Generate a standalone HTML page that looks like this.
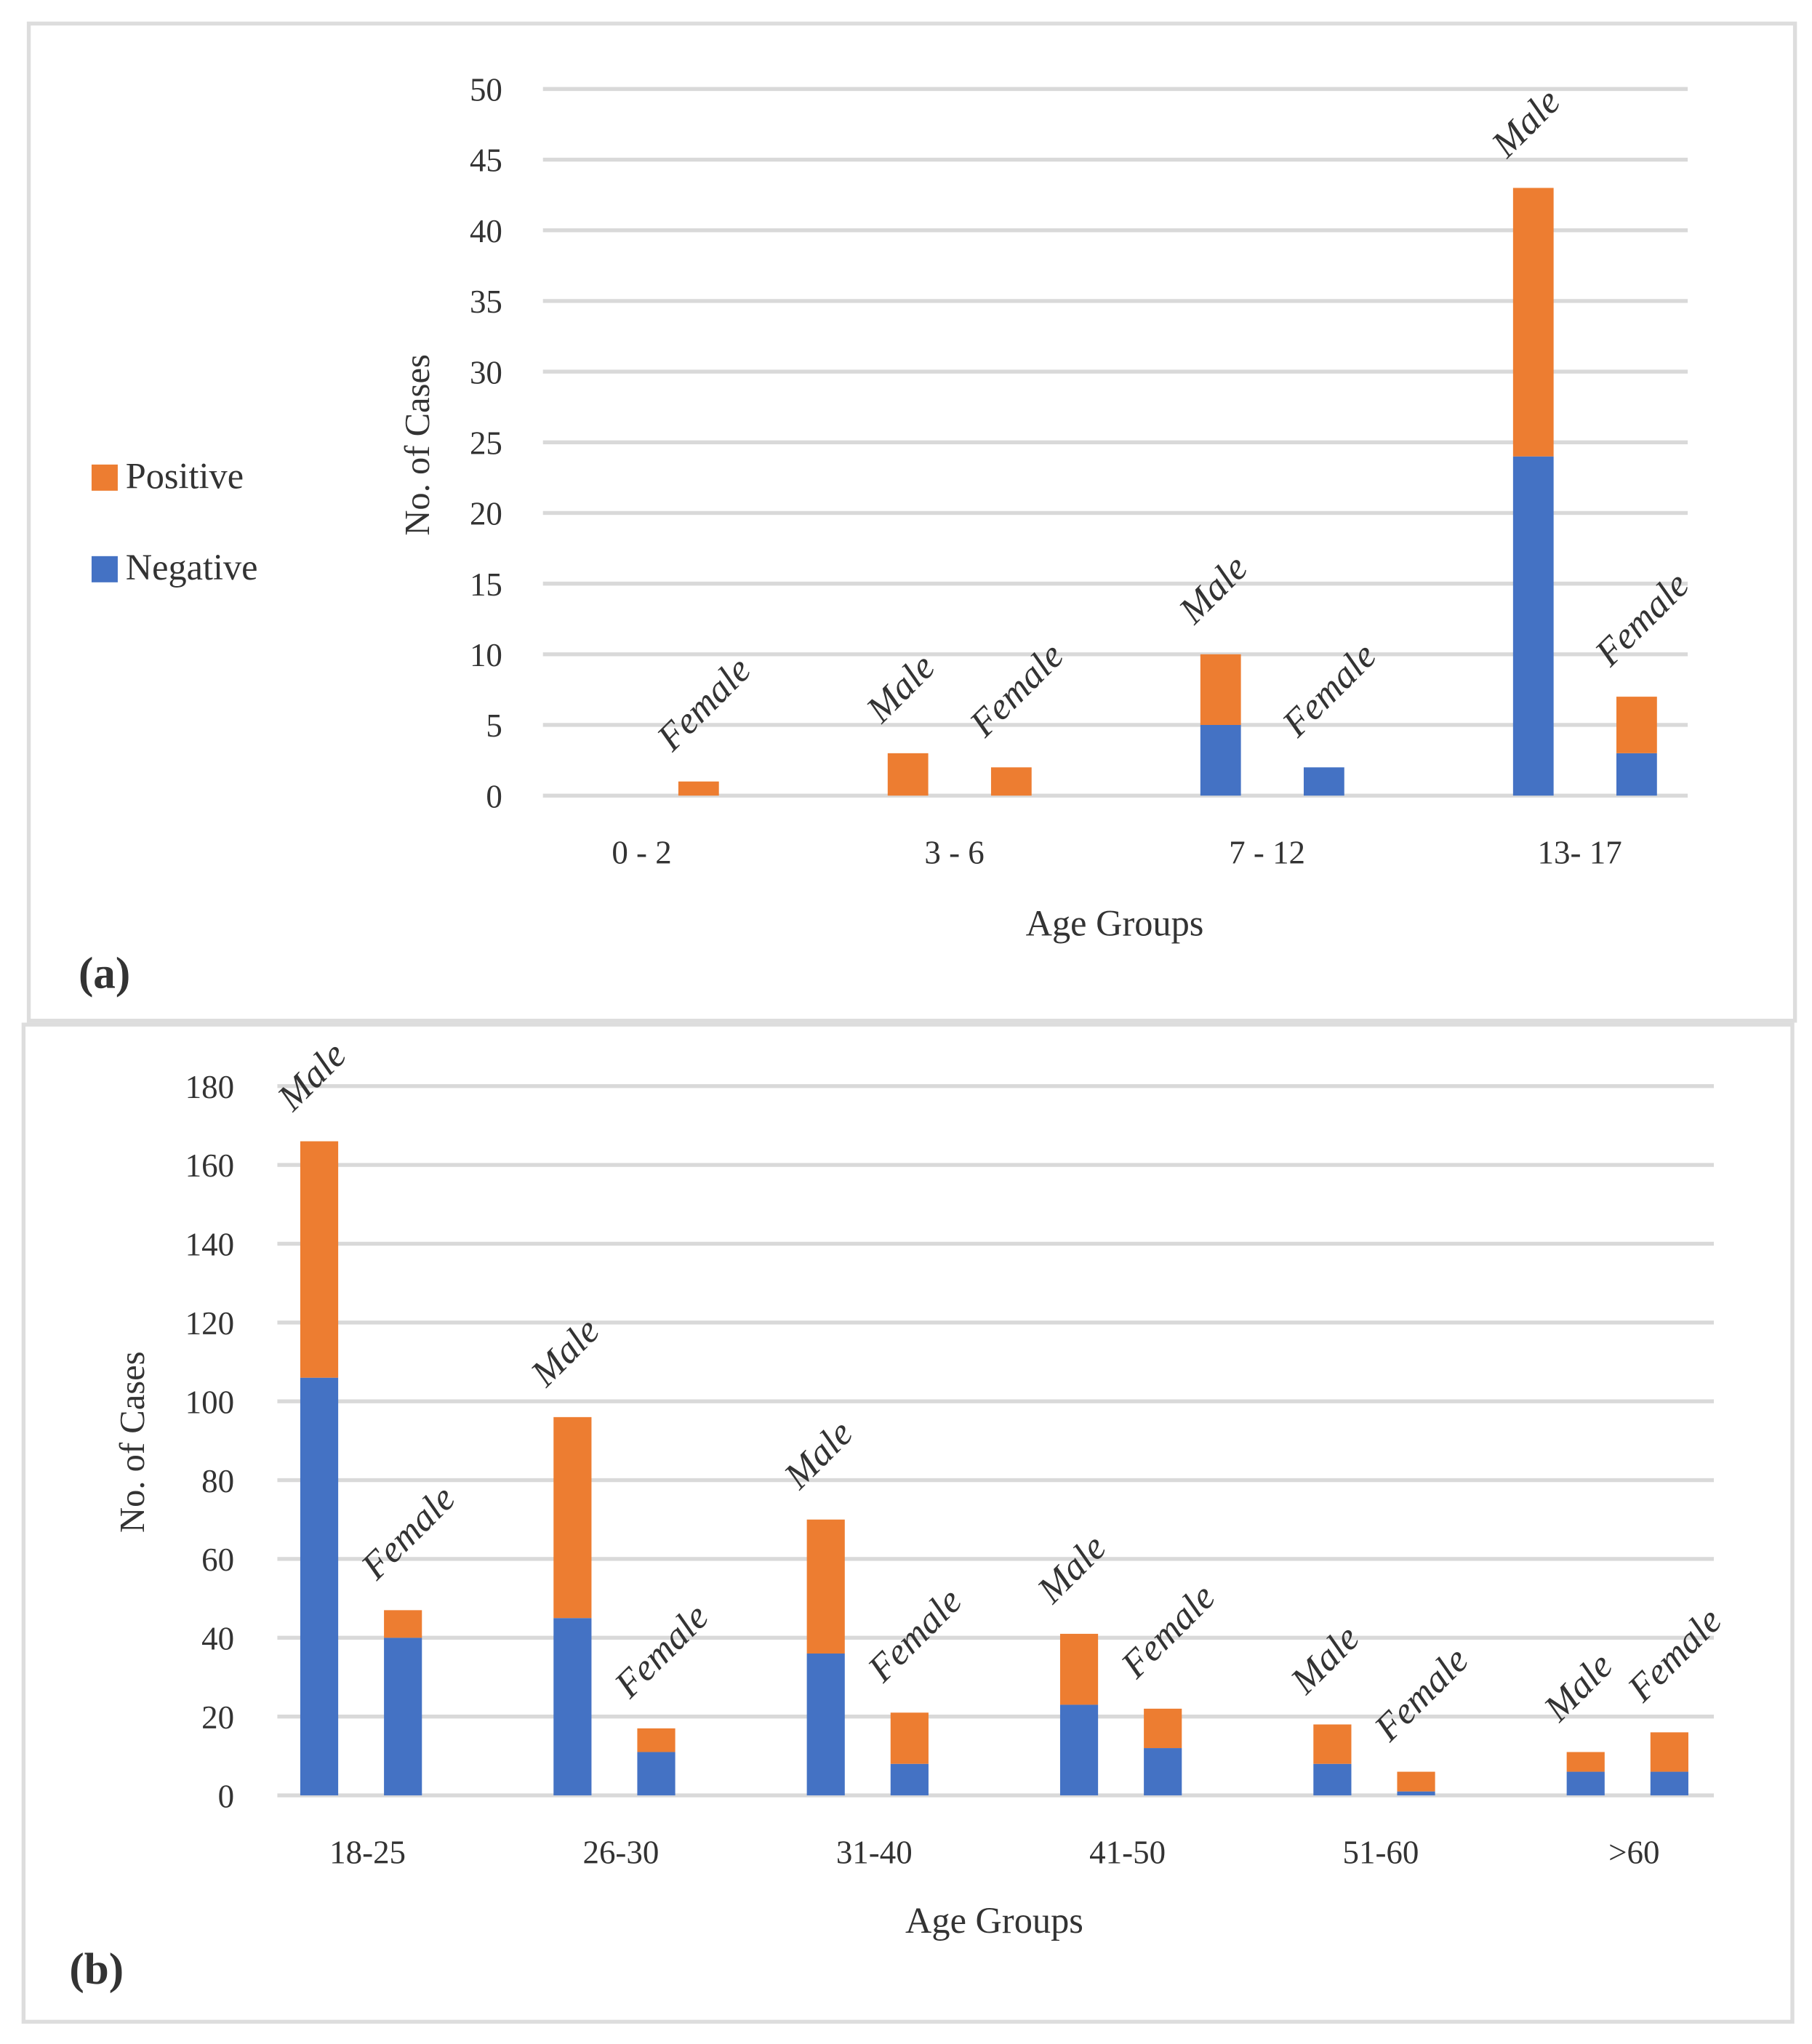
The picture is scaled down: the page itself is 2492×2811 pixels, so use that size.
<!DOCTYPE html>
<html><head><meta charset="utf-8"><style>
html,body{margin:0;padding:0;background:#fff}
svg{display:block}
text{font-family:"Liberation Serif",serif;fill:#333}
</style></head><body>
<svg id="chart" width="2492" height="2811" viewBox="0 0 1385 1562" preserveAspectRatio="none" xmlns="http://www.w3.org/2000/svg">
<rect x="22" y="18" width="1350" height="762" fill="none" stroke="#ddd" stroke-width="3"/>
<rect x="18" y="783" width="1352" height="762" fill="none" stroke="#ddd" stroke-width="3"/>
<g id="ga"></g>
<g id="gb"></g>
<rect x="70" y="355" width="20" height="20" fill="#ED7D31"/>
<text x="96" y="373" font-size="28">Positive</text>
<rect x="70" y="425" width="20" height="20" fill="#4472C4"/>
<text x="96" y="443" font-size="28">Negative</text>
<text transform="translate(328,340) rotate(-90)" text-anchor="middle" font-size="27">No. of Cases</text>
<text x="852" y="715" text-anchor="middle" font-size="28">Age Groups</text>
<text x="60" y="755" font-size="34" font-weight="bold" fill="#000">(a)</text>
<text transform="translate(110,1102) rotate(-90)" text-anchor="middle" font-size="27">No. of Cases</text>
<text x="760" y="1477" text-anchor="middle" font-size="28">Age Groups</text>
<text x="53" y="1516" font-size="34" font-weight="bold" fill="#000">(b)</text>
</svg>
<script>
const catsA = ["0 - 2","3 - 6","7 - 12","13- 17"];
const maleNegA = [0,0,5,24];
const malePosA = [0,3,5,19];
const femNegA = [0,0,2,3];
const femPosA = [1,2,0,4];
const ticksA = [0,5,10,15,20,25,30,35,40,45,50];

const catsB = ["18-25","26-30","31-40","41-50","51-60",">60"];
const maleNegB = [106,45,36,23,8,6];
const malePosB = [60,51,34,18,10,5];
const femNegB = [40,11,8,12,1,6];
const femPosB = [7,6,13,10,5,10];
const ticksB = [0,20,40,60,80,100,120,140,160,180];

const NS="http://www.w3.org/2000/svg";
function mk(tag,attrs,parent){const e=document.createElementNS(NS,tag);for(const k in attrs)e.setAttribute(k,attrs[k]);parent.appendChild(e);return e;}

function draw(g,cfg){
  const y=v=>cfg.y0-(v/cfg.max)*(cfg.y0-cfg.yTop);
  const x=(i,s)=>cfg.m0+i*cfg.step+s*cfg.pair;
  cfg.ticks.forEach(t=>{
    const l=mk('line',{x1:cfg.gx0,x2:cfg.gx1,y1:y(t),y2:y(t),stroke:'#d9d9d9','stroke-width':3},g);
    
    
    const tx=mk('text',{x:cfg.tickX,y:y(t)+9,'text-anchor':'end','font-size':25},g);
    tx.textContent=t;
    
    
  });
  cfg.cats.forEach((c,i)=>{
    const lb=mk('text',{x:x(i,0.5)+cfg.lblDx,y:cfg.y0+52,'text-anchor':'middle','font-size':25},g);
    lb.textContent=c;
    
    
    [[cfg.mn,cfg.mp,'Male',0],[cfg.fn,cfg.fp,'Female',1]].forEach(([n,p,name,s])=>{
      const cx=x(i,s), nv=n[i], pv=p[i];
      if(nv>0){const r=mk('rect',{x:cx-cfg.bw/2,y:y(nv),width:cfg.bw,height:y(0)-y(nv),fill:'#4472C4'},g);
        
        }
      if(pv>0){const r=mk('rect',{x:cx-cfg.bw/2,y:y(nv+pv),width:cfg.bw,height:y(nv)-y(nv+pv),fill:'#ED7D31'},g);
        
        }
      if(nv+pv>0){
        const tx=cx-20, ty=y(nv+pv)-22;
        const t=mk('text',{x:tx,y:ty,'font-size':29,'font-style':'italic',transform:`rotate(-45 ${tx} ${ty})`},g);
        t.textContent=name;
        
        
      }
    });
  });
}
draw(document.getElementById('ga'),{cats:catsA,mn:maleNegA,mp:malePosA,fn:femNegA,fp:femPosA,ticks:ticksA,max:50,
  y0:608,yTop:68,gx0:415,gx1:1290,tickX:384,m0:455,step:239,pair:79,bw:31,lblDx:-4});
draw(document.getElementById('gb'),{cats:catsB,mn:maleNegB,mp:malePosB,fn:femNegB,fp:femPosB,ticks:ticksB,max:180,
  y0:1372,yTop:830,gx0:212,gx1:1310,tickX:179,m0:244,step:193.6,pair:64,bw:29,lblDx:5});
</script>
</body></html>
